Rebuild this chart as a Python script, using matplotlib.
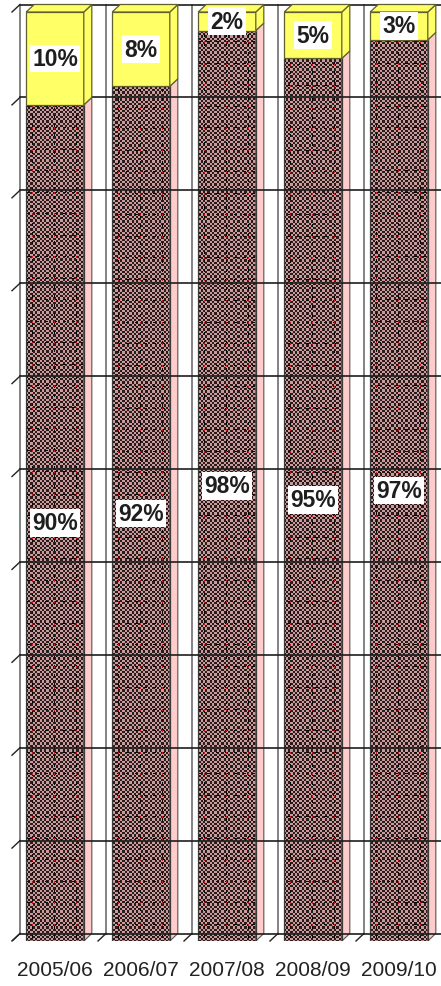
import numpy as np
import matplotlib
matplotlib.use("Agg")
import matplotlib.pyplot as plt
from matplotlib.patches import Polygon
from matplotlib import font_manager as fm

# Share of each season (percent)
seasons = ["2005/06", "2006/07", "2007/08", "2008/09", "2009/10"]
share_main = [90, 92, 98, 95, 97]
share_other = [10, 8, 2, 5, 3]

# Figure geometry (pixels at 100 dpi)
W, H = 441, 987
AX_H = 942
PX_PER_CAT = 86.0
X0_PX = 55.0
PX_PER_PCT = 9.29

installed = {f.name for f in fm.fontManager.ttflist}
if "Liberation Sans Narrow" in installed:
    FAMILY = ["Liberation Sans Narrow", "DejaVu Sans"]
    LABEL_SIZE, TICK_SIZE = 18, 17.5
else:
    FAMILY = ["Liberation Sans", "DejaVu Sans"]
    LABEL_SIZE, TICK_SIZE = 16.5, 15

fig = plt.figure(figsize=(W / 100, H / 100), dpi=100)
ax = fig.add_axes([0, (H - AX_H) / H, 1, AX_H / H])
xlim = (-X0_PX / PX_PER_CAT, (W - X0_PX) / PX_PER_CAT)
ylim = (0, AX_H / PX_PER_PCT)

# depth offsets of the 3-D box (data units)
DX = 8.0 / PX_PER_CAT
DY = 7.5 / PX_PER_PCT
BAR_W = 0.67
n = len(seasons)

# ---- back wall -------------------------------------------------------
for i in range(n + 1):
    xb = i - 0.5 + DX
    ax.plot([xb, xb], [DY, 100 + DY], color="#7a7a7a", lw=1.3, zorder=1)
    # floor ticks between categories
    ax.plot([i - 0.5, xb], [0, DY], color="#222222", lw=1.0, zorder=3,
            clip_on=False)
for v in range(0, 101, 10):
    ax.plot([-0.5 + DX, xlim[1]], [v + DY, v + DY], color="#1e1e1e",
            lw=1.2, zorder=3)
    ax.plot([-0.5, -0.5 + DX], [v, v + DY], color="#222222", lw=1.0,
            zorder=3)

# ---- checkered fill texture -----------------------------------------
yy, xx = np.mgrid[0:AX_H, 0:W]
cell = 2.3
chk = ((np.floor(xx / cell) + np.floor(yy / cell)) % 2).astype(bool)
tex = np.empty((AX_H, W, 3))
tex[:] = np.array([0xc8, 0x9c, 0x9c]) / 255
tex[chk] = np.array([0x2a, 0x1a, 0x1a]) / 255
rel = (xx - 25) % 86
vline = np.isin(rel, [7, 29, 51])
hline = (yy % 21.5) < 1
dotted_v = vline & ((yy // 3) % 3 == 0)
dotted_h = hline & ((xx // 3) % 3 == 0)
tex[dotted_v | dotted_h] = np.array([0x10, 0x04, 0x04]) / 255
tex[vline & ((yy % 21.5) < 1.6)] = np.array([0xd8, 0x10, 0x10]) / 255

# ---- main series (textured) -----------------------------------------
xs = np.arange(n)
bars = ax.bar(xs, share_main, width=BAR_W, facecolor="none",
              edgecolor="#3a3a3a", linewidth=0.9, zorder=2.6)
for rect in bars:
    im = ax.imshow(tex, extent=(xlim[0], xlim[1], ylim[0], ylim[1]),
                   origin="upper", interpolation="nearest", aspect="auto",
                   zorder=2)
    im.set_clip_path(rect)
for x, v in zip(xs, share_main):
    x1 = x + BAR_W / 2
    side = Polygon([(x1, 0), (x1 + DX, DY), (x1 + DX, v + DY), (x1, v)],
                   closed=True, facecolor="#ffcccc", edgecolor="#555555",
                   linewidth=0.8, zorder=2)
    ax.add_patch(side)

# ---- other series (yellow boxes) -------------------------------------
YEL = "#ffff66"
YEL_EDGE = "#5f5f30"
ax.bar(xs, share_other, bottom=share_main, width=BAR_W, color=YEL,
       edgecolor=YEL_EDGE, linewidth=0.9, zorder=4)
for x, b, t in zip(xs, share_main, share_other):
    x0, x1 = x - BAR_W / 2, x + BAR_W / 2
    top = b + t
    ax.add_patch(Polygon([(x1, b), (x1 + DX, b + DY), (x1 + DX, top + DY),
                          (x1, top)], closed=True, facecolor=YEL,
                         edgecolor=YEL_EDGE, linewidth=0.9, zorder=4))
    ax.add_patch(Polygon([(x0, top), (x1, top), (x1 + DX, top + DY),
                          (x0 + DX, top + DY)], closed=True, facecolor=YEL,
                         edgecolor=YEL_EDGE, linewidth=0.9, zorder=4))

# ---- value labels ----------------------------------------------------
box = dict(facecolor="white", edgecolor="none", boxstyle="square,pad=0.1")
for x, b, t in zip(xs, share_main, share_other):
    ax.text(x, b / 2, f"{b}%", ha="center", va="center", family=FAMILY,
            fontsize=LABEL_SIZE, fontweight="bold", color="#1e1e1e",
            bbox=box, zorder=6)
    ax.text(x, b + t / 2, f"{t}%", ha="center", va="center", family=FAMILY,
            fontsize=LABEL_SIZE, fontweight="bold", color="#1e1e1e",
            bbox=box, zorder=6)

# ---- axes ------------------------------------------------------------
ax.set_xlim(*xlim)
ax.set_ylim(*ylim)
ax.set_xticks(xs, seasons, family=FAMILY, fontsize=TICK_SIZE, color="#222222")
ax.set_yticks([])
ax.tick_params(axis="x", length=0, pad=14)
for s in ax.spines.values():
    s.set_visible(False)

fig.savefig("out.png", dpi=100)
